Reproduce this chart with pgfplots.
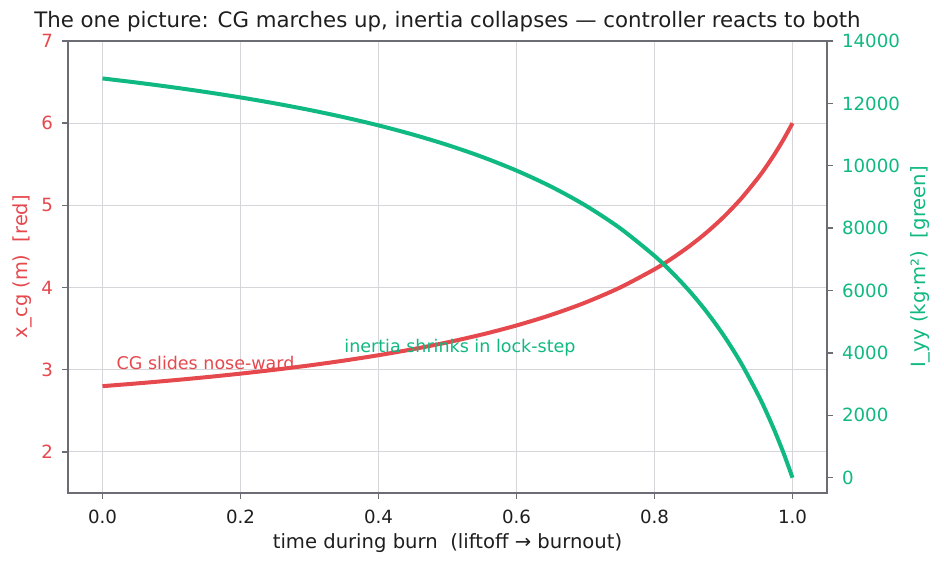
\documentclass[border=0pt]{standalone}
\usepackage{pgfplots}
\pgfplotsset{compat=1.18}
\usepackage{fontspec}
\setmainfont{DejaVu Sans}
\definecolor{cgred}{RGB}{229,72,77}
\definecolor{igreen}{RGB}{16,185,129}
\definecolor{spine}{RGB}{108,108,116}
\definecolor{gridc}{RGB}{214,214,218}
\definecolor{txt}{RGB}{30,30,30}
\begin{document}
\begin{tikzpicture}
\useasboundingbox (-34pt,-37pt) rectangle (438pt,246.5pt);
\pgfplotsset{
  common/.style={
    scale only axis, width=379.5pt, height=226pt,
    xmin=-0.05, xmax=1.05,
    axis line style={spine, line width=0.7pt},
    tick align=outside, major tick length=3pt,
    tick style={spine, line width=0.7pt},
    /pgf/number format/assume math mode=true,
    ticklabel style={font=\fontsize{9.1}{11}\selectfont},
    scaled ticks=false,
  }
}
\begin{axis}[common,
  ymin=1.5, ymax=7, ytick={2,3,4,5,6,7},
  xtick={0,0.2,0.4,0.6,0.8,1.0},
  xtick pos=bottom, ytick pos=left,
  xticklabel style={txt, /pgf/number format/.cd, fixed, fixed zerofill, precision=1},
  yticklabel style={cgred},
  xticklabel shift=2pt, yticklabel shift=1pt,
  grid=major, grid style={gridc, line width=0.5pt},
  xlabel={time during burn\ \ (liftoff → burnout)},
  xlabel style={txt, font=\fontsize{9.8}{11}\selectfont, at={(axis description cs:0.5,0)}, anchor=center, yshift=-25pt},
  ylabel={x\_cg (m)\ \ [red]},
  ylabel style={cgred, font=\fontsize{9.7}{11}\selectfont, at={(axis description cs:0,0.5)}, anchor=center, yshift=23pt},
  title={The one picture: CG marches up, inertia collapses — controller reacts to both},
  title style={txt, font=\fontsize{10.65}{12}\selectfont, at={(axis description cs:0.5,1)}, anchor=center, yshift=3.5pt},
]
\addplot[cgred, line width=2pt, smooth] coordinates {
(0.00,2.8000) (0.05,2.8333) (0.10,2.8696) (0.15,2.9091) (0.20,2.9524)
(0.25,3.0000) (0.30,3.0526) (0.35,3.1111) (0.40,3.1765) (0.45,3.2500)
(0.50,3.3333) (0.55,3.4286) (0.60,3.5385) (0.65,3.6667) (0.70,3.8182)
(0.75,4.0000) (0.80,4.2222) (0.825,4.3529) (0.85,4.5000) (0.875,4.6667)
(0.90,4.8571) (0.925,5.0769) (0.95,5.3333) (0.9625,5.4783) (0.975,5.6364)
(0.9875,5.8095) (1.00,6.0000)
};
\node[cgred, anchor=base west, font=\fontsize{8.75}{10}\selectfont, inner sep=0pt] at (axis cs:0.02,3.0) {CG slides nose-ward};
\end{axis}
\begin{axis}[common,
  ymin=-490, ymax=14000, ytick={0,2000,4000,6000,8000,10000,12000,14000},
  axis x line=none, axis y line*=right,
  yticklabel style={igreen, /pgf/number format/.cd, 1000 sep={}},
  yticklabel shift=1pt,
  ylabel={I\_yy (kg·m²)\ \ [green]},
  ylabel style={igreen, font=\fontsize{9.8}{11}\selectfont, at={(axis description cs:1,0.5)}, anchor=center, yshift=-46.5pt},
]
\addplot[igreen, line width=2pt, smooth] coordinates {
(0.00,12800.0) (0.05,12666.7) (0.10,12521.7) (0.15,12363.6) (0.20,12190.5)
(0.25,12000.0) (0.30,11789.5) (0.35,11555.6) (0.40,11294.1) (0.45,11000.0)
(0.50,10666.7) (0.55,10285.7) (0.60,9846.2) (0.65,9333.3) (0.70,8727.3)
(0.75,8000.0) (0.80,7111.1) (0.825,6588.2) (0.85,6000.0) (0.875,5333.3)
(0.90,4571.4) (0.925,3692.3) (0.95,2666.7) (0.9625,2087.0) (0.975,1454.5)
(0.9875,761.9) (1.00,0.0)
};
\node[igreen, anchor=base west, font=\fontsize{8.75}{10}\selectfont, inner sep=0pt] at (axis cs:0.35,4000) {inertia shrinks in lock-step};
\end{axis}
\end{tikzpicture}
\end{document}
